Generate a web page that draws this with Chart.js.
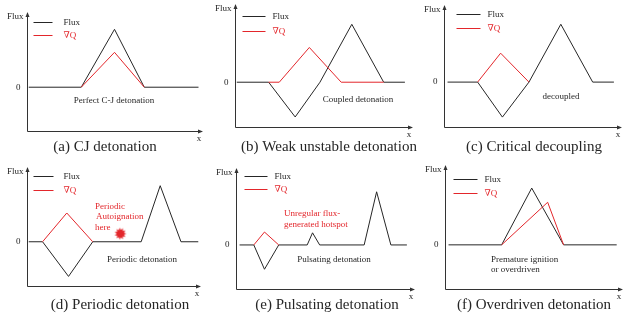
<!DOCTYPE html>
<html>
<head>
<meta charset="utf-8">
<script src="https://cdn.jsdelivr.net/npm/chart.js@4.4.1/dist/chart.umd.min.js"></script>
<style>
  body { margin: 0; background: #fff; }
  #wrap { position: relative; width: 635px; height: 322px; }
  #wrap canvas { position: absolute; }
</style>
</head>
<body>
<div id="wrap"></div>
<script>
// ---- data (x along the front, y = flux / heat release, baseline 0) ----
const cjFluxX = [0.1, 3.1, 5.0, 6.7, 9.8];
const cjFluxY = [0, 0, 7.8, 0, 0];
const cjDqX = [3.1, 5.0, 6.7];
const cjDqY = [0, 4.7, 0];

const weakFluxX = [0.1, 1.9, 3.4, 4.8, 6.6, 8.4, 9.6];
const weakFluxY = [0, 0, -4.5, 0, 7.5, 0, 0];
const weakDqX = [1.9, 2.5, 4.2, 6.0, 8.4];
const weakDqY = [0, 0, 4.5, 0, 0];

const critFluxX = [0.2, 1.9, 3.3, 4.8, 6.6, 8.4, 9.6];
const critFluxY = [0, 0, -4.6, 0, 7.6, 0, 0];
const critDqX = [1.9, 3.2, 4.8];
const critDqY = [0, 3.8, 0];

const perFluxX = [0.1, 0.9, 2.4, 3.8, 6.6, 7.7, 8.9, 9.9];
const perFluxY = [0, 0, -4.7, 0, 0, 7.6, 0, 0];
const perDqX = [0.9, 2.3, 3.8];
const perDqY = [0, 3.9, 0];
const perHotX = [5.4];
const perHotY = [1.1];

const pulsFluxX = [0.2, 1.0, 1.6, 2.4, 4.0, 4.3, 4.7, 7.2, 7.9, 8.7, 9.6];
const pulsFluxY = [0, 0, -3.2, 0, 0, 1.6, 0, 0, 7.0, 0, 0];
const pulsDqX = [1.0, 1.6, 2.4];
const pulsDqY = [0, 1.7, 0];

const overFluxX = [0.2, 3.2, 4.9, 6.7, 9.7];
const overFluxY = [0, 0, 7.2, 0, 0];
const overDqX = [3.2, 5.8, 6.7];
const overDqY = [0, 5.4, 0];

const legendLabels = ['Flux', '\u2207Q'];
const yTickLabels = ['0'];

const BLACK = '#262626';
const RED = '#e3262b';
const SERIF = '"Liberation Serif", "DejaVu Serif", serif';

function pts(xs, ys) { return xs.map((x, i) => ({ x: x, y: ys[i] })); }

// red autoignition blob
function makeStar(r) {
    const c = document.createElement('canvas');
    c.width = c.height = r * 2 + 2;
    const g = c.getContext('2d');
    g.fillStyle = RED;
    g.beginPath();
    const n = 11;
    for (let i = 0; i < n * 2; i++) {
        const a = i * Math.PI / n;
        const rr = i % 2 ? r * 0.62 : r;
        g.lineTo(r + 1 + rr * Math.cos(a), r + 1 + rr * Math.sin(a));
    }
    g.closePath();
    g.fill();
    return c;
}

// layout per panel: box = canvas rect on page, area = axes rect on page
const panels = [
    { box: [0, 0, 212, 161], area: [27, 13, 202, 131], ymin: -5.9,
      flux: pts(cjFluxX, cjFluxY), dq: pts(cjDqX, cjDqY),
      caption: '(a) CJ detonation', cap: [105, 147], leg: [6, 25, 36, 9, 22],
      notes: [{ t: 'Perfect C-J detonation', x: 114, y: 101, a: 'center', c: BLACK }] },
    { box: [212, 0, 212, 161], area: [235, 5, 412, 127], ymin: -5.8,
      flux: pts(weakFluxX, weakFluxY), dq: pts(weakDqX, weakDqY),
      caption: '(b) Weak unstable detonation', cap: [329, 147], leg: [7, 30, 37, 11, 26],
      notes: [{ t: 'Coupled detonation', x: 358, y: 100, a: 'center', c: BLACK }] },
    { box: [424, 0, 211, 161], area: [444, 6, 621, 127], ymin: -5.9,
      flux: pts(critFluxX, critFluxY), dq: pts(critDqX, critDqY),
      caption: '(c) Critical decoupling', cap: [534, 147], leg: [12, 36, 43, 8, 22],
      notes: [{ t: 'decoupled', x: 561, y: 97, a: 'center', c: BLACK }] },
    { box: [0, 161, 212, 161], area: [27, 166, 200, 286], ymin: -6.0,
      flux: pts(perFluxX, perFluxY), dq: pts(perDqX, perDqY), hot: pts(perHotX, perHotY),
      caption: '(d) Periodic detonation', cap: [120, 305], leg: [6, 26, 36, 8, 22],
      notes: [
          { t: 'Periodic detonation', x: 142, y: 260, a: 'center', c: BLACK },
          { t: 'Periodic', x: 95, y: 207, a: 'left', c: RED },
          { t: 'Autoignation', x: 96, y: 217, a: 'left', c: RED },
          { t: 'here', x: 95, y: 228, a: 'left', c: RED }
      ] },
    { box: [212, 161, 212, 161], area: [236, 169, 414, 289], ymin: -5.8,
      flux: pts(pulsFluxX, pulsFluxY), dq: pts(pulsDqX, pulsDqY),
      caption: '(e) Pulsating detonation', cap: [327, 305], leg: [8, 31, 38, 7, 20],
      notes: [
          { t: 'Pulsating detonation', x: 334, y: 260, a: 'center', c: BLACK },
          { t: 'Unregular flux-', x: 284, y: 214, a: 'left', c: RED },
          { t: 'generated hotspot', x: 284, y: 225, a: 'left', c: RED }
      ] },
    { box: [424, 161, 211, 161], area: [445, 166, 622, 289], ymin: -5.6,
      flux: pts(overFluxX, overFluxY), dq: pts(overDqX, overDqY),
      caption: '(f) Overdriven detonation', cap: [534, 305], leg: [8, 32, 39, 13, 27],
      notes: [
          { t: 'Premature ignition', x: 491, y: 260, a: 'left', c: BLACK },
          { t: 'or overdriven', x: 491, y: 270, a: 'left', c: BLACK }
      ] }
];

// axes, arrows, labels, legend, captions
const decorPlugin = {
    id: 'decor',
    afterDraw(chart) {
        const p = chart.options.plugins.decor.panel;
        const ctx = chart.ctx;
        const ca = chart.chartArea;
        const ox = p.box[0], oy = p.box[1];
        const L = Math.round(ca.left) + 0.5, T = ca.top, R = ca.right, B = Math.round(ca.bottom) + 0.5;
        ctx.save();
        ctx.strokeStyle = '#333';
        ctx.fillStyle = '#333';
        ctx.lineWidth = 1;
        ctx.beginPath();
        ctx.moveTo(L, T); ctx.lineTo(L, B); ctx.lineTo(R, B);
        ctx.stroke();
        // arrow heads
        ctx.beginPath();
        ctx.moveTo(L, T - 1); ctx.lineTo(L - 2, T + 4); ctx.lineTo(L + 2, T + 4); ctx.closePath(); ctx.fill();
        ctx.beginPath();
        ctx.moveTo(R + 1, B); ctx.lineTo(R - 4, B - 2); ctx.lineTo(R - 4, B + 2); ctx.closePath(); ctx.fill();

        ctx.font = '9px ' + SERIF;
        ctx.textBaseline = 'middle';
        // axis titles
        ctx.fillStyle = BLACK;
        ctx.textAlign = 'right';
        ctx.fillText('Flux', L - 4, T + 4);
        const y0 = chart.scales.y.getPixelForValue(0);
        ctx.fillText(yTickLabels[0], L - 7, y0);
        ctx.textAlign = 'center';
        ctx.fillText('x', R - 3, B + 7);

        // legend
        const lg = p.leg;
        [BLACK, RED].forEach((col, i) => {
            const ly = Math.round(T + (i ? lg[4] : lg[3])) + 0.5;
            ctx.strokeStyle = col;
            ctx.beginPath();
            ctx.moveTo(L + lg[0], ly); ctx.lineTo(L + lg[1], ly);
            ctx.stroke();
            ctx.fillStyle = col;
            ctx.textAlign = 'left';
            ctx.fillText(legendLabels[i], L + lg[2], ly);
        });

        // annotations
        p.notes.forEach(n => {
            ctx.fillStyle = n.c;
            ctx.textAlign = n.a;
            ctx.fillText(n.t, n.x - ox, n.y - oy);
        });

        // caption
        ctx.font = '15px ' + SERIF;
        ctx.fillStyle = BLACK;
        ctx.textAlign = 'center';
        ctx.fillText(p.caption, p.cap[0] - ox, p.cap[1] - oy);
        ctx.restore();
    }
};

const wrap = document.getElementById('wrap');
const star = makeStar(6);

panels.forEach(p => {
    const cv = document.createElement('canvas');
    cv.width = p.box[2];
    cv.height = p.box[3];
    cv.style.left = p.box[0] + 'px';
    cv.style.top = p.box[1] + 'px';
    wrap.appendChild(cv);

    const datasets = [
        { data: p.dq, borderColor: RED, borderWidth: 1, order: 0 },
        { data: p.flux, borderColor: BLACK, borderWidth: 1, order: 1 }
    ];
    if (p.hot) {
        datasets.push({ data: p.hot, showLine: false, pointRadius: 6, pointStyle: star, order: 0 });
    }

    new Chart(cv.getContext('2d'), {
        type: 'line',
        data: { datasets: datasets },
        options: {
            responsive: false,
            animation: false,
            layout: {
                padding: {
                    left: p.area[0] - p.box[0],
                    top: p.area[1] - p.box[1],
                    right: p.box[0] + p.box[2] - p.area[2],
                    bottom: p.box[1] + p.box[3] - p.area[3]
                }
            },
            elements: { point: { radius: 0 }, line: { tension: 0 } },
            scales: {
                x: { type: 'linear', display: false, min: 0, max: 10 },
                y: { type: 'linear', display: false, min: p.ymin, max: 10 }
            },
            plugins: {
                legend: { display: false },
                tooltip: { enabled: false },
                decor: { panel: p }
            }
        },
        plugins: [decorPlugin]
    });
});
</script>
</body>
</html>
